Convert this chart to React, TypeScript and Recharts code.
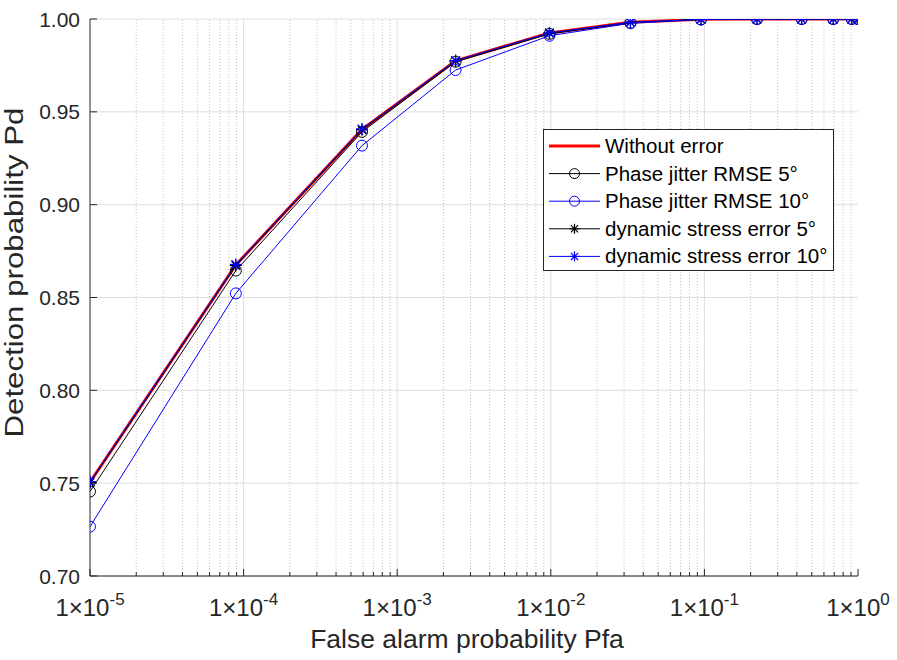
import React from 'react';
import { LineChart, Line, XAxis, YAxis, CartesianGrid, ReferenceLine, Legend } from 'recharts';

// ---------- data ----------
const pfa = [1e-5, 8.9e-5, 5.9e-4, 2.4e-3, 9.8e-3, 0.033, 0.095, 0.22, 0.43, 0.69, 0.91, 1.0];
const pdWithoutError = [0.7505, 0.8675, 0.9405, 0.9775, 0.9925, 0.9982, 0.9998, 1.0, 1.0, 1.0, 1.0, 1.0];
const pdPhase5 = [0.7455, 0.8645, 0.9392, 0.977, 0.992, 0.998, 0.9998, 1.0, 1.0, 1.0, 1.0, 1.0];
const pdPhase10 = [0.7266, 0.8522, 0.9318, 0.9725, 0.991, 0.9977, 0.9997, 1.0, 1.0, 1.0, 1.0, 1.0];
const pdDynamic5 = [0.7503, 0.8672, 0.9403, 0.9774, 0.9924, 0.9982, 0.9998, 1.0, 1.0, 1.0, 1.0, 1.0];
const pdDynamic10 = [0.7508, 0.8678, 0.9408, 0.9776, 0.9925, 0.9982, 0.9998, 1.0, 1.0, 1.0, 1.0, 1.0];

const seriesNames = [
  'Without error',
  'Phase jitter RMSE 5°',
  'Phase jitter RMSE 10°',
  'dynamic stress error 5°',
  'dynamic stress error 10°',
];
const seriesKeys = ['noErr', 'phase5', 'phase10', 'dyn5', 'dyn10'];
const seriesValues = [pdWithoutError, pdPhase5, pdPhase10, pdDynamic5, pdDynamic10];

const xMajorTicks = [1e-5, 1e-4, 1e-3, 1e-2, 1e-1, 1];
const xTickExponents = ['-5', '-4', '-3', '-2', '-1', '0'];
const xMinorMultipliers = [2, 3, 4, 5, 6, 7, 8, 9];
const yTicks = [0.7, 0.75, 0.8, 0.85, 0.9, 0.95, 1.0];
const yTickLabels = ['0.70', '0.75', '0.80', '0.85', '0.90', '0.95', '1.00'];

const xMinorTicks: number[] = [];
xMajorTicks.slice(0, -1).forEach((d) => xMinorMultipliers.forEach((m) => xMinorTicks.push(m * d)));
const xAllTicks = [...xMajorTicks, ...xMinorTicks].sort((a, b) => a - b);

const data = pfa.map((x, i) => {
  const row: any = { pfa: x };
  seriesKeys.forEach((k, j) => (row[k] = seriesValues[j][i]));
  return row;
});

// ---------- styles ----------
const FONT = '"Liberation Sans", Arial, Helvetica, sans-serif';
const AXIS = '#262626';
const BLUE = '#0000ff';
const seriesStyles = [
  { color: '#ff0000', width: 3, marker: 'none' },
  { color: '#000000', width: 1, marker: 'circle' },
  { color: BLUE, width: 1, marker: 'circle' },
  { color: '#000000', width: 1, marker: 'star' },
  { color: BLUE, width: 1, marker: 'star' },
];

const majorIndex = (v: number) => xMajorTicks.findIndex((t) => Math.abs(Math.log10(t) - Math.log10(v)) < 1e-9);

const Star = ({ cx, cy, color, s = 6 }: any) => {
  const d = s * 0.72;
  return (
    <g stroke={color} strokeWidth={1.2} fill="none">
      <line x1={cx - s} y1={cy} x2={cx + s} y2={cy} />
      <line x1={cx} y1={cy - s} x2={cx} y2={cy + s} />
      <line x1={cx - d} y1={cy - d} x2={cx + d} y2={cy + d} />
      <line x1={cx - d} y1={cy + d} x2={cx + d} y2={cy - d} />
    </g>
  );
};

const BottomTick = (props: any) => {
  const { x, y, payload } = props;
  const idx = majorIndex(payload.value);
  const major = idx >= 0;
  return (
    <g>
      <line x1={x} x2={x} y1={y} y2={y - (major ? 7 : 4)} stroke={AXIS} strokeWidth={1} />
      {major && (
        <text x={x} y={y + 40} textAnchor="middle" fontSize={24} fill={AXIS} fontFamily={FONT}>
          <tspan>1×10</tspan>
          <tspan dy={-11} fontSize={17}>{xTickExponents[idx]}</tspan>
        </text>
      )}
    </g>
  );
};

const TopTick = (props: any) => {
  const { x, y, payload } = props;
  const major = majorIndex(payload.value) >= 0;
  return <line x1={x} x2={x} y1={y} y2={y + (major ? 7 : 4)} stroke={AXIS} strokeWidth={1} />;
};

const LeftTick = (props: any) => {
  const { x, y, payload, index } = props;
  const i = yTicks.findIndex((t) => Math.abs(t - payload.value) < 1e-9);
  return (
    <g>
      <line x1={x} x2={x + 7} y1={y} y2={y} stroke={AXIS} strokeWidth={1} />
      <text x={x - 10} y={y + 7.5} textAnchor="end" fontSize={21} fill={AXIS} fontFamily={FONT}>
        {yTickLabels[i >= 0 ? i : index]}
      </text>
    </g>
  );
};

const RightTick = (props: any) => {
  const { x, y } = props;
  return <line x1={x} x2={x - 7} y1={y} y2={y} stroke={AXIS} strokeWidth={1} />;
};

const YLabel = (props: any) => {
  const vb = props.viewBox || {};
  const cx = 23;
  const cy = (vb.y ?? 19) + (vb.height ?? 557) / 2 - 25;
  return (
    <text
      x={cx}
      y={cy}
      transform={`rotate(-90, ${cx}, ${cy})`}
      textAnchor="middle"
      fontSize={26}
      textLength={330}
      lengthAdjust="spacingAndGlyphs"
      fill={AXIS}
      fontFamily={FONT}
    >
      Detection probability Pd
    </text>
  );
};

const XLabel = (props: any) => {
  const vb = props.viewBox || {};
  const cx = (vb.x ?? 90) + (vb.width ?? 768) / 2 - 7;
  const cy = (vb.y ?? 576) + 72;
  return (
    <text x={cx} y={cy} textAnchor="middle" fontSize={26.5} fill={AXIS} fontFamily={FONT}>
      False alarm probability Pfa
    </text>
  );
};

const renderLegend = () => {
  const W = 291;
  const H = 142;
  return (
    <svg width={W} height={H} style={{ display: 'block' }}>
      <rect x={0.5} y={0.5} width={W - 1} height={H - 1} fill="#ffffff" stroke={AXIS} strokeWidth={1} />
      {seriesNames.map((name, i) => {
        const st = seriesStyles[i];
        const cy = 17 + i * 27.6;
        return (
          <g key={name}>
            <line x1={6} x2={57} y1={cy} y2={cy} stroke={st.color} strokeWidth={st.width} />
            {st.marker === 'circle' && <circle cx={31.5} cy={cy} r={5} fill="none" stroke={st.color} strokeWidth={1} />}
            {st.marker === 'star' && <Star cx={31.5} cy={cy} color={st.color} s={5} />}
            <text x={62} y={cy + 7} fontSize={20.5} fill="#000" fontFamily={FONT}>
              {name}
            </text>
          </g>
        );
      })}
    </svg>
  );
};

export default function App() {
  return (
    <div style={{ position: 'absolute', left: 0, top: 0, width: 897, height: 660, background: '#fff' }}>
      <LineChart width={897} height={660} data={data} margin={{ top: 19, right: 39, bottom: 0, left: 0 }}>
        <CartesianGrid xAxisId="bottom" yAxisId="left" vertical={false} stroke="#dedede" strokeWidth={1} />
        {xMinorTicks.map((v) => (
          <ReferenceLine key={`mn-${v}`} x={v} xAxisId="bottom" yAxisId="left" stroke="#c4c4c4" strokeDasharray="1 2" strokeWidth={1} />
        ))}
        {xMajorTicks.slice(1, -1).map((v) => (
          <ReferenceLine key={`mj-${v}`} x={v} xAxisId="bottom" yAxisId="left" stroke="#dedede" strokeWidth={1} />
        ))}
        <XAxis
          xAxisId="bottom"
          dataKey="pfa"
          type="number"
          scale="log"
          domain={[1e-5, 1]}
          ticks={xAllTicks}
          interval={0}
          height={84}
          tickSize={0}
          tickMargin={0}
          tickLine={false}
          axisLine={{ stroke: AXIS, strokeWidth: 1 }}
          tick={<BottomTick />}
          allowDataOverflow
          label={<XLabel />}
        />
        <XAxis
          xAxisId="top"
          orientation="top"
          dataKey="pfa"
          type="number"
          scale="log"
          domain={[1e-5, 1]}
          ticks={xAllTicks}
          interval={0}
          height={0}
          tickSize={0}
          tickMargin={0}
          tickLine={false}
          axisLine={{ stroke: AXIS, strokeWidth: 1 }}
          tick={<TopTick />}
          allowDataOverflow
        />
        <YAxis
          yAxisId="left"
          type="number"
          domain={[0.7, 1]}
          ticks={yTicks}
          interval={0}
          width={90}
          tickSize={0}
          tickMargin={0}
          tickLine={false}
          axisLine={{ stroke: AXIS, strokeWidth: 1 }}
          tick={<LeftTick />}
          allowDataOverflow
          label={<YLabel />}
        />
        <YAxis
          yAxisId="right"
          orientation="right"
          type="number"
          domain={[0.7, 1]}
          ticks={yTicks}
          interval={0}
          width={0}
          tickSize={0}
          tickMargin={0}
          tickLine={false}
          axisLine={{ stroke: AXIS, strokeWidth: 1 }}
          tick={<RightTick />}
          allowDataOverflow
        />
        {seriesKeys.map((k, i) => {
          const st = seriesStyles[i];
          let dot: any = false;
          if (st.marker === 'circle') dot = { r: 5.5, fill: 'none', stroke: st.color, strokeWidth: 1 };
          if (st.marker === 'star')
            dot = (p: any) => <Star key={`${k}-${p.index}`} cx={p.cx} cy={p.cy} color={st.color} />;
          return (
            <Line
              key={k}
              xAxisId="bottom"
              yAxisId="left"
              type="linear"
              dataKey={k}
              name={seriesNames[i]}
              stroke={st.color}
              strokeWidth={st.width}
              dot={dot}
              activeDot={false}
              isAnimationActive={false}
            />
          );
        })}
        <Legend
          layout="horizontal"
          verticalAlign="middle"
          align="center"
          content={renderLegend}
          wrapperStyle={{ position: 'absolute', left: 543, top: 129, width: 291, height: 142 }}
        />
      </LineChart>
    </div>
  );
}
